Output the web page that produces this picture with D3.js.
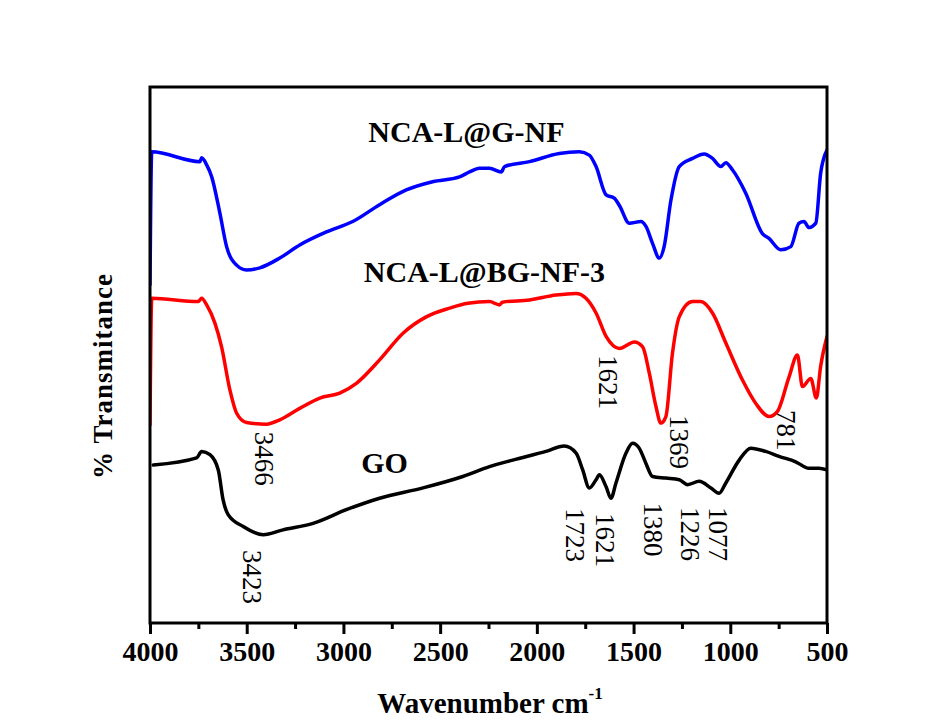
<!DOCTYPE html>
<html>
<head>
<meta charset="utf-8">
<script src="https://cdn.jsdelivr.net/npm/d3@7"></script>
<style>
  html, body { margin: 0; padding: 0; background: #ffffff; }
  svg { display: block; }
  text { font-family: "Liberation Serif", "Times New Roman", Times, "DejaVu Serif", serif; fill: #000; }
</style>
</head>
<body>
<svg id="chart" width="950" height="720"></svg>
<script>
// ---- data (wavenumber cm^-1, relative transmittance) ----
const wavenumberNCA_L_G_NF = [4000, 3991, 3742, 3733, 3707, 3681, 3639, 3604, 3552, 3501, 3432, 3329, 3226, 3088, 2952, 2813, 2675, 2539, 2400, 2348, 2297, 2245, 2184, 2167, 2038, 1884, 1780, 1729, 1694, 1642, 1600, 1574, 1522, 1462, 1436, 1402, 1367, 1342, 1307, 1264, 1195, 1135, 1092, 1049, 1023, 989, 920, 834, 800, 739, 687, 645, 619, 593, 558, 533, 500];
const transNCA_L_G_NF = [63.9, 88.3, 86.5, 87.2, 85.9, 83.7, 77.1, 70.9, 67.5, 66.6, 67.0, 68.8, 71.2, 73.6, 75.5, 78.6, 81.3, 82.8, 83.7, 84.6, 85.3, 85.3, 84.6, 85.6, 86.5, 88.0, 88.3, 87.7, 85.6, 80.4, 79.8, 78.5, 75.2, 75.5, 74.6, 71.5, 68.8, 70.9, 79.4, 85.6, 87.1, 87.9, 87.1, 85.6, 86.3, 85.0, 80.7, 73.3, 72.4, 70.3, 70.9, 75.2, 75.5, 74.4, 75.2, 84.3, 88.6];

const wavenumberNCA_L_BG_NF_3 = [4000, 3991, 3751, 3733, 3707, 3664, 3630, 3587, 3552, 3501, 3398, 3329, 3226, 3122, 3019, 2933, 2813, 2692, 2572, 2451, 2357, 2245, 2193, 2178, 2038, 1901, 1797, 1746, 1694, 1642, 1574, 1496, 1453, 1419, 1384, 1359, 1333, 1299, 1264, 1195, 1152, 1092, 1023, 937, 868, 799, 757, 696, 653, 627, 584, 555, 533, 500];
const transNCA_L_BG_NF_3 = [38.2, 61.4, 60.8, 61.4, 60.2, 56.8, 52.5, 44.6, 40.3, 38.6, 38.3, 39.1, 41.2, 43.1, 44.0, 45.8, 50.1, 55.0, 58.0, 59.6, 60.5, 60.8, 60.2, 60.7, 61.1, 62.0, 62.3, 61.4, 58.7, 54.4, 52.2, 53.4, 52.5, 47.7, 41.5, 38.5, 39.7, 51.3, 58.0, 60.8, 60.8, 58.7, 53.2, 46.4, 42.1, 39.7, 40.6, 47.0, 51.0, 45.2, 46.7, 43.1, 48.9, 54.4];

const wavenumberGO = [3983, 3759, 3733, 3690, 3647, 3622, 3596, 3518, 3415, 3312, 3157, 2985, 2813, 2589, 2383, 2245, 2125, 1953, 1858, 1797, 1763, 1729, 1694, 1677, 1642, 1617, 1591, 1539, 1505, 1471, 1436, 1402, 1333, 1264, 1221, 1161, 1100, 1058, 1023, 954, 894, 817, 748, 662, 593, 541, 500];
const transGO = [30.8, 32.1, 33.3, 32.7, 29.9, 24.4, 21.7, 19.5, 18.0, 18.9, 20.1, 22.6, 24.7, 26.6, 28.7, 30.5, 31.7, 33.3, 34.3, 33.0, 29.9, 26.6, 28.1, 29.0, 26.8, 24.7, 27.5, 33.0, 34.8, 33.9, 31.1, 28.7, 28.4, 28.1, 27.2, 27.8, 26.6, 25.6, 27.5, 31.7, 33.9, 33.3, 32.4, 31.4, 30.2, 30.2, 29.9];

const seriesNames = ["NCA-L@G-NF", "NCA-L@BG-NF-3", "GO"];
const seriesColors = ["#0000ff", "#ff0000", "#000000"];

const xTickValues = [4000, 3500, 3000, 2500, 2000, 1500, 1000, 500];
const xMinorTickValues = [3750, 3250, 2750, 2250, 1750, 1250, 750];

// peak annotations
const peakLabels = ["3466", "1621", "1369", "781", "3423", "1723", "1621", "1380", "1226", "1077"];
// anchor of each annotation in data space: wavenumber (text centre), transmittance (text start)
const peakLabelX = [3412, 1631, 1264, 712, 3473, 1801, 1646, 1398, 1207, 1063];
const peakLabelY = [36.9, 51.0, 40.0, 40.9, 15.2, 22.9, 22.0, 23.9, 23.1, 23.1];

// series name anchors (data space: centre wavenumber, baseline transmittance)
const seriesLabelX = [2364, 2271, 2787];
const seriesLabelY = [90.1, 64.4, 29.4];

// ---- layout ----
const svg = d3.select("#chart");
const pL = 150, pR = 827, pT = 87, pB = 623;

const x = d3.scaleLinear().domain([4000, 500]).range([pL, pR]);
const y = d3.scaleLinear().domain([1.8, 100.2]).range([pB, pT]);

svg.append("defs").append("clipPath").attr("id", "plotclip")
  .append("rect").attr("x", pL).attr("y", pT).attr("width", pR - pL).attr("height", pB - pT);

const series = [
  { name: seriesNames[0], color: seriesColors[0], xs: wavenumberNCA_L_G_NF, ys: transNCA_L_G_NF },
  { name: seriesNames[1], color: seriesColors[1], xs: wavenumberNCA_L_BG_NF_3, ys: transNCA_L_BG_NF_3 },
  { name: seriesNames[2], color: seriesColors[2], xs: wavenumberGO, ys: transGO }
];

const line = d3.line()
  .x(d => x(d[0]))
  .y(d => y(d[1]))
  .curve(d3.curveMonotoneX);

const gLines = svg.append("g").attr("clip-path", "url(#plotclip)");
series.forEach(s => {
  const pts = s.xs.map((w, i) => [w, s.ys[i]]);
  gLines.append("path")
    .attr("d", line(pts))
    .attr("fill", "none")
    .attr("stroke", s.color)
    .attr("stroke-width", 3.5)
    .attr("stroke-linejoin", "round")
    .attr("stroke-linecap", "round");
});

// frame
svg.append("rect")
  .attr("x", pL).attr("y", pT)
  .attr("width", pR - pL).attr("height", pB - pT)
  .attr("fill", "none").attr("stroke", "#000").attr("stroke-width", 3);

// x axis
const xAxis = d3.axisBottom(x).tickValues(xTickValues).tickSize(11).tickPadding(7).tickFormat(d3.format("d"));
const gx = svg.append("g").attr("transform", `translate(0,${pB})`).call(xAxis);
gx.attr("font-family", null);
gx.select(".domain").remove();
gx.selectAll(".tick line").attr("stroke", "#000").attr("stroke-width", 3);
gx.selectAll(".tick text")
  .attr("font-size", 28).attr("font-weight", "bold").attr("fill", "#000");

const xMinor = d3.axisBottom(x).tickValues(xMinorTickValues).tickSize(6).tickFormat("");
const gxm = svg.append("g").attr("transform", `translate(0,${pB})`).call(xMinor);
gxm.select(".domain").remove();
gxm.selectAll(".tick line").attr("stroke", "#000").attr("stroke-width", 3);

// axis titles
const xt = svg.append("text")
  .attr("x", 490).attr("y", 713)
  .attr("text-anchor", "middle")
  .attr("font-size", 29).attr("font-weight", "bold");
xt.append("tspan").text("Wavenumber cm");
xt.append("tspan").attr("font-size", 17).attr("dy", -14).text("-1");

svg.append("text")
  .attr("transform", "translate(112,376) rotate(-90)")
  .attr("text-anchor", "middle")
  .attr("font-size", 27).attr("font-weight", "bold")
  .attr("letter-spacing", 1)
  .text("% Transmitance");

// series labels
series.forEach((s, i) => {
  svg.append("text")
    .attr("x", x(seriesLabelX[i])).attr("y", y(seriesLabelY[i]))
    .attr("text-anchor", "middle")
    .attr("font-size", 30).attr("font-weight", "bold")
    .text(s.name);
});

// peak annotations (rotated, reading top to bottom)
peakLabels.forEach((lab, i) => {
  const px = x(peakLabelX[i]), py = y(peakLabelY[i]);
  svg.append("text")
    .attr("transform", `translate(${px},${py}) rotate(90)`)
    .attr("text-anchor", "start")
    .attr("dominant-baseline", "central")
    .attr("font-size", 27)
    .text(lab);
});
</script>
</body>
</html>
